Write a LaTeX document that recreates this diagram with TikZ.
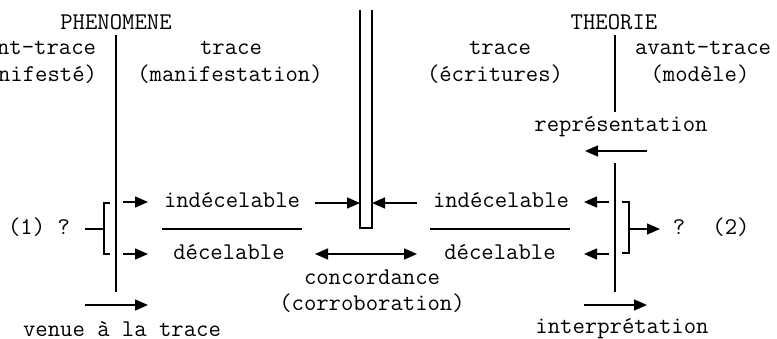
\documentclass[tikz,border=0pt]{standalone}
\usepackage{fontspec}
\usetikzlibrary{arrows.meta}
\tikzset{
  txt/.style={anchor=base, inner sep=0pt, font=\ttfamily\fontsize{24}{28}\selectfont},
  ln/.style={line width=1.5pt},
  arr/.style={ln, -{Triangle[length=13pt,width=11pt]}},
  darr/.style={ln, {Triangle[length=13pt,width=11pt]}-{Triangle[length=13pt,width=11pt]}}
}
\begin{document}
\begin{tikzpicture}[x=1pt,y=-1pt]
\useasboundingbox (0,0) rectangle (777,339);
% headings
\node[txt] (phen) at (116,30) {PHENOMENE};
\node[txt] (theo) at (614,30) {THEORIE};
\node[txt] (avl) at (28,55) {avant-trace};
\node[txt] (manl) at (29,82) {(manifesté)};
\node[txt] (trl) at (231,55) {trace};
\node[txt] (manif) at (230,82) {(manifestation)};
\node[txt] (trr) at (500,55) {trace};
\node[txt] (ecr) at (495,82) {(écritures)};
\node[txt] (avr) at (703,55) {avant-trace};
\node[txt] (mod) at (700,82) {(modèle)};
\node[txt] (repr) at (621,132) {représentation};
% middle
\node[txt] (indl) at (232,208) {indécelable};
\node[txt] (decl) at (229,260) {décelable};
\node[txt] (indr) at (501,208) {indécelable};
\node[txt] (decr) at (500,260) {décelable};
\node[txt] (q1) at (39,235) {(1) ?};
\node[txt] (q2) at (679,235) {?};
\node[txt] (n2) at (731,235) {(2)};
\node[txt] (conc) at (372,285) {concordance};
\node[txt] (corr) at (372,310) {(corroboration)};
\node[txt] (venue) at (122,336) {venue à la trace};
\node[txt] (interp) at (622,334) {interprétation};
% coordinates
\coordinate (lt) at (116,35); \coordinate (lb) at (116,292);
\coordinate (rt) at (615,35); \coordinate (rm) at (615,112);
\coordinate (rl) at (615,163); \coordinate (rb) at (615,292);
% vertical lines
\draw[ln] (lt) -- (lb);
\draw[ln] (rt) -- (rm);
\draw[ln] (rl) -- (rb);
% double bar
\coordinate (d1) at (360,10); \coordinate (d2) at (360,228);
\coordinate (d3) at (372,228); \coordinate (d4) at (372,10);
\draw[ln] (d1) -- (d2) -- (d3) -- (d4);
% left bracket
\coordinate (lbt) at (110,203); \coordinate (lbb) at (110,254);
\coordinate (lbm) at (104,229); \coordinate (lq) at (85,229);
\draw[ln] (lbt) -- (104,203) -- (104,254) -- (lbb);
\draw[ln] (lq) -- (lbm);
% right bracket
\coordinate (rbt) at (622,202); \coordinate (rbb) at (622,253);
\coordinate (rbm) at (629,229); \coordinate (rq) at (660,229);
\draw[ln] (rbt) -- (629,202) -- (629,253) -- (rbb);
\draw[arr] (rbm) -- (rq);
% separators
\coordinate (s1a) at (162,229); \coordinate (s1b) at (302,229);
\coordinate (s2a) at (430,229); \coordinate (s2b) at (570,229);
\draw[ln] (s1a) -- (s1b);
\draw[ln] (s2a) -- (s2b);
% arrows left
\draw[arr] (123,202) -- (148,202);
\draw[arr] (123,254) -- (148,254);
% arrows to double bar
\draw[arr] (315,203) -- (d2 |- 0,203);
\draw[arr] (417,203) -- (d3 |- 0,203);
\draw[darr] (315,254) -- (417,254);
% arrows right
\draw[arr] (609,202) -- (584,202);
\draw[arr] (609,254) -- (584,254);
\draw[arr] (647,151) -- (585,151);
% bottom arrows
\draw[arr] (85,305) -- (148,305);
\draw[arr] (584,305) -- (647,305);
\end{tikzpicture}
\end{document}
